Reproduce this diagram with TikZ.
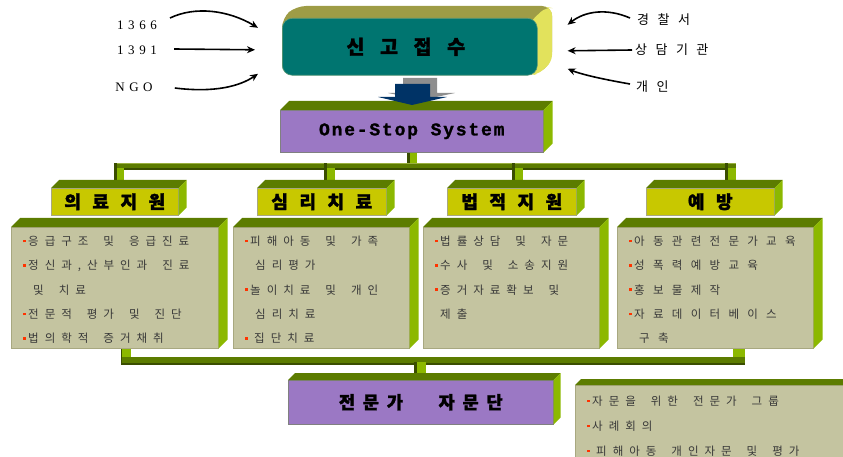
\documentclass[tikz,border=0pt]{standalone}
\usepackage{fontspec}
\setmainfont{Liberation Serif}
\newfontfamily\krbody[LetterSpace=52]{Noto Sans CJK KR}
\newfontfamily\krwide[LetterSpace=72]{Noto Sans CJK KR}
\newfontfamily\krhead[LetterSpace=64, WordSpace=3, BoldFeatures={FakeBold=1.5}]{Noto Sans CJK KR}
\newfontfamily\krexp[LetterSpace=45, WordSpace=3, BoldFeatures={FakeBold=1.5}]{Noto Sans CJK KR}
\newfontfamily\krtop[LetterSpace=80, BoldFeatures={FakeBold=1.5}]{Noto Sans CJK KR}
\newfontfamily\krside[LetterSpace=65]{Noto Sans CJK KR}
\newfontfamily\serifsp[LetterSpace=35]{Liberation Serif}
\newfontfamily\monosp[LetterSpace=10, BoldFeatures={FakeBold=1.2}]{Liberation Mono}
\newcommand\tightsp{\spaceskip=15pt\relax}
\newcommand\bodyfont{\krbody\fontsize{11.5}{24.3}\selectfont\tightsp}
\newcommand\widefont{\krwide\fontsize{11.5}{24.3}\selectfont\tightsp}
\newcommand\notefont{\krbody\fontsize{11.5}{25}\selectfont\tightsp}
\usetikzlibrary{calc,arrows.meta}
\definecolor{teal1}{HTML}{007570}
\definecolor{tealedge}{HTML}{5E9A7A}
\definecolor{olvtop}{HTML}{9E9C46}
\definecolor{ylwside}{HTML}{E2E25C}
\definecolor{purp}{HTML}{9B78C4}
\definecolor{dgreen}{HTML}{5C7C00}
\definecolor{bgreen}{HTML}{8CB800}
\definecolor{darkedge}{HTML}{3A4E00}
\definecolor{lightedge}{HTML}{9AB040}
\definecolor{hylw}{HTML}{C8C800}
\definecolor{khaki}{HTML}{C4C4A0}
\definecolor{khedge}{HTML}{A8A880}
\definecolor{bulred}{HTML}{FF3300}
\definecolor{txt}{HTML}{383838}
\definecolor{arrblue}{HTML}{003366}
\definecolor{arrgray}{HTML}{8E8E8E}
\newcommand\bul{\textcolor{bulred}{\rule[3.2pt]{2.6pt}{2.6pt}}\hspace{2.4pt}}
\newcommand\faces[4]{%
  \fill[#3] (#1.north west) -- ++(#2,-#2) -- ($(#1.north east)+(#2,-#2)$) -- (#1.north east) -- cycle;
  \fill[#4] (#1.north east) -- ++(#2,-#2) -- ($(#1.south east)+(#2,-#2)$) -- (#1.south east) -- cycle;}
\tikzset{
  cbox/.style={draw=khedge, line width=0.5pt, fill=khaki, inner sep=0pt, anchor=north west},
  hbox/.style={draw=khedge, line width=0.5pt, fill=hylw, inner sep=0pt, anchor=north west,
     font=\krhead\bfseries\fontsize{18}{20}\selectfont},
  pbox/.style={draw=gray, line width=0.5pt, fill=purp, inner sep=0pt, anchor=north west},
  body/.style={anchor=north west, inner sep=0pt, align=left, text=txt, font=\bodyfont},
  conn/.style={line width=1.6pt, -{Stealth[length=8pt,width=7pt]}},
  lab/.style={inner sep=0pt, text=black}
}
\begin{document}
\begin{tikzpicture}[x=1pt,y=-1pt]
\useasboundingbox (0,0) rectangle (843,457);

% ---------- top box ----------
\fill[olvtop, rounded corners=10pt] (282,18) -- (296,6) -- (552,6) -- (552,62) -- (537,75) -- (282,75) -- cycle;
\fill[ylwside, rounded corners=7pt] (530,22) -- (546,7) -- (552,8) -- (552,62) -- (537,75) -- (530,75) -- cycle;
\node[draw=tealedge, line width=0.6pt, fill=teal1, rounded corners=10pt, inner sep=0pt,
      anchor=north west, minimum width=255pt, minimum height=57pt,
      font=\krtop\bfseries\fontsize{19.5}{22}\selectfont] (recv) at (282,18) {\hspace{-8pt}신고접수};

% ---------- left / right labels ----------
\node[lab, font=\serifsp\fontsize{13}{15}\selectfont] (l1) at (137,25) {1366};
\node[lab, font=\serifsp\fontsize{13}{15}\selectfont] (l2) at (137,50) {1391};
\node[lab, font=\serifsp\fontsize{13}{15}\selectfont] (l3) at (134,87) {NGO};
\node[lab, anchor=west, font=\krside\fontsize{13}{15}\selectfont] (r1) at (637,20) {경찰서};
\node[lab, anchor=west, font=\krside\fontsize{13}{15}\selectfont] (r2) at (635,50) {상담기관};
\node[lab, anchor=west, font=\krside\fontsize{13}{15}\selectfont] (r3) at (636,87) {개인};

\draw[conn] ($(l1.east)+(13,-7)$) .. controls (195,6) and (228,10) .. ($(recv.west)+(-24,-19)$);
\draw[conn] ($(l2.east)+(17,-1)$) -- ($(recv.west)+(-27,3)$);
\draw[conn] ($(l3.east)+(22,1)$) .. controls (215,93) and (240,86) .. ($(recv.west)+(-24,27)$);
\draw[conn] ($(r1.west)+(-7,-2)$) .. controls (607,8) and (585,11) .. ($(recv.east)+(30,-22)$);
\draw[conn] ($(r2.west)+(-3,0)$) -- ($(recv.east)+(30,4)$);
\draw[conn] ($(r3.west)+(-6,-3)$) .. controls (607,80) and (583,75) .. ($(recv.east)+(30,22)$);

% ---------- One-Stop ----------
\fill[bgreen] (407,140) rectangle (417,164);
\fill[darkedge] (407,140) rectangle (410,164);
\node[pbox, minimum width=263pt, minimum height=42pt,
      font=\monosp\bfseries\fontsize{18}{20}\selectfont] (oss) at (280,110) {One-Stop System};
\faces{oss}{9}{dgreen}{bgreen}

% fat arrow between recv and oss
\fill[arrgray] (403,78) -- (437,78) -- (437,93) -- (455,93) -- (422,100) -- (388,93) -- (403,93) -- cycle;
\fill[arrblue] (395,84) -- (430,84) -- (430,97) -- (447,97) -- (412,105) -- (378,97) -- (395,97) -- cycle;

% ---------- upper bus ----------
\coordinate (busL) at (114,163);
\coordinate (busR) at (736,170);
\fill[dgreen] (busL) rectangle (busR);
\draw[lightedge, line width=0.8pt] (114,163.4) -- (736,163.4);
\draw[darkedge, line width=1.6pt] (114,169.2) -- (736,169.2);
\foreach \x/\w in {114/10,324/11,512/11,725/11}{
  \fill[bgreen] (\x,168) rectangle (\x+\w,187);
  \fill[darkedge] (\x,163) rectangle (\x+3,187);
}

% ---------- headers ----------
\node[hbox, minimum width=127pt, minimum height=27pt] (h1) at (51,188) {의료지원};
\node[hbox, minimum width=129pt, minimum height=27pt] (h2) at (257,188) {심리치료};
\node[hbox, minimum width=129pt, minimum height=27pt] (h3) at (447,188) {법적지원};
\node[hbox, minimum width=128pt, minimum height=27pt] (h4) at (646,188) {예방};
\foreach \n in {h1,h2,h3,h4}{\faces{\n}{8}{dgreen}{bgreen}}

% ---------- lower bus ----------
\fill[bgreen] (121,340) rectangle (131,360);
\fill[bgreen] (733,340) rectangle (745,365);
\fill[dgreen] (121,357) rectangle (745,365);
\draw[darkedge, line width=1.6pt] (121,364.2) -- (745,364.2);
\draw[darkedge, line width=1.2pt] (121.6,348) -- (121.6,365);
\fill[bgreen] (414,362) rectangle (426,378);
\fill[darkedge] (414,362) rectangle (417,378);

% ---------- content boxes ----------
\node[cbox, minimum width=207pt, minimum height=121pt] (c1) at (11,227) {};
\node[cbox, minimum width=176pt, minimum height=121pt] (c2) at (233,227) {};
\node[cbox, minimum width=176pt, minimum height=121pt] (c3) at (423,227) {};
\node[cbox, minimum width=196pt, minimum height=121pt] (c4) at (617,227) {};
\foreach \n in {c1,c2,c3,c4}{\faces{\n}{9}{dgreen}{bgreen}}

\node[body] (t1) at (23,228.4) {\strut\bul 응급구조 및 응급진료\\
  \bul 정신과,산부인과 진료\\
  \hspace*{10pt}및 치료\\
  \bul 전문적 평가 및 진단\\
  \bul 법의학적 증거채취};
\node[body] (t2) at (245,228.4) {\strut\bul 피해아동 및 가족\\
  \hspace*{10pt}심리평가\\
  \bul 놀이치료 및 개인\\
  \hspace*{10pt}심리치료\\
  \bul\hspace{4pt}집단치료};
\node[body] (t3) at (435,228.4) {\strut\bul 법률상담 및 자문\\
  \bul 수사 및 소송지원\\
  \bul 증거자료확보 및\\
  \hspace*{5pt}제출};
\node[body, font=\widefont] (t4) at (629,228.4) {\strut\bul 아동관련전문가교육\\
  \bul 성폭력예방교육\\
  \bul 홍보물제작\\
  \bul 자료데이터베이스\\
  \hspace*{10pt}구축};

% ---------- expert panel ----------
\node[pbox, minimum width=265pt, minimum height=44pt,
      font=\krexp\bfseries\fontsize{17.5}{20}\selectfont] (exp) at (288,380) {전문가 자문단};
\faces{exp}{7}{dgreen}{bgreen}

\node[cbox, minimum width=290pt, minimum height=80pt] (note) at (575,385) {};
\faces{note}{6}{dgreen}{bgreen}
\node[body, font=\notefont] (t5) at (587,387.7) {\strut\bul 자문을 위한 전문가 그룹\\
  \bul 사례회의\\
  \bul\hspace{4pt}피해아동 개인자문 및 평가};
\end{tikzpicture}
\end{document}
